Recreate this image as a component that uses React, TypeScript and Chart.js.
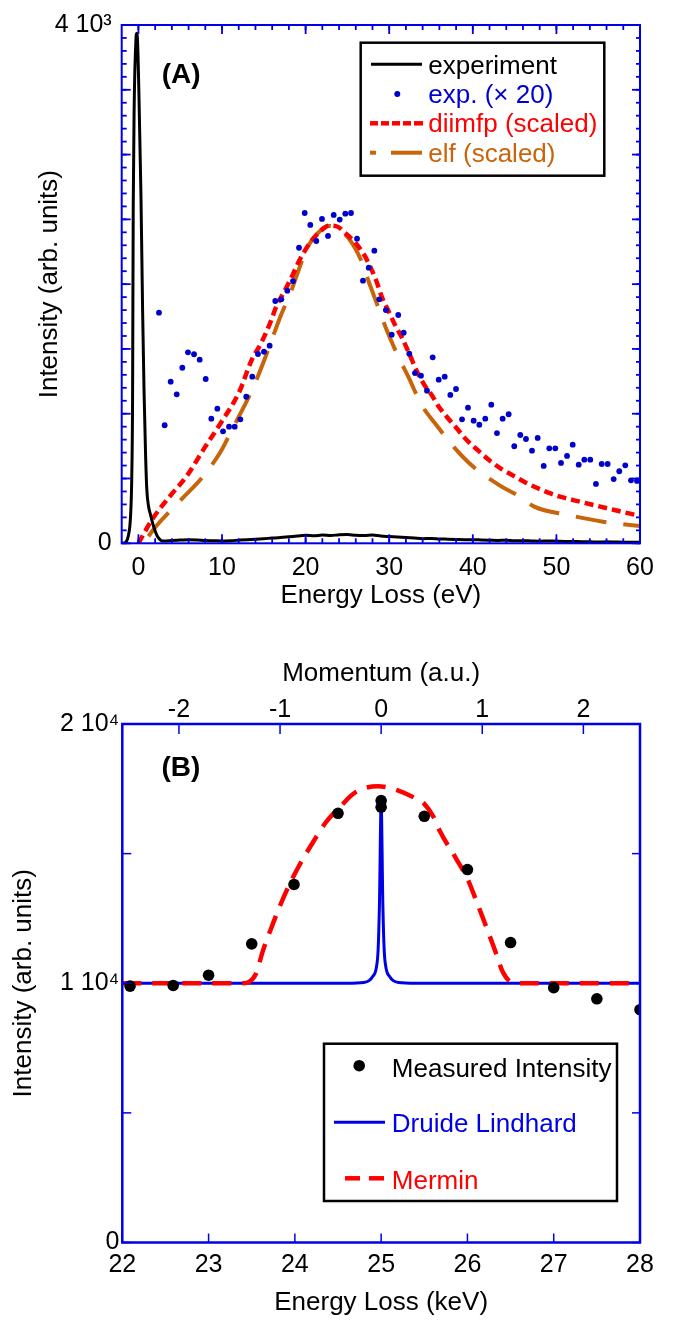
import React, { useEffect, useRef } from "react";
import { Chart, registerables } from "chart.js";

Chart.register(...registerables);

const FONT = "'Liberation Sans', Arial, Helvetica, sans-serif";
const BLUE = "#0000e6";
const DOT_BLUE = "#0000cc";
const RED = "#ff0000";
const BROWN = "#c8640a";

// ---------------- Panel A data ----------------
const expEnergy = [
  -2.0, -1.5, -1.2, -0.95, -0.8, -0.7, -0.62, -0.5, -0.3, -0.2, -0.1, 0.05, 0.3, 0.5, 0.67, 0.85, 1.0, 1.2, 1.45,
  1.7, 2.0, 2.3, 2.7, 3, 4, 5, 6, 7, 8, 9, 10, 11, 12, 13, 14, 15, 16, 17, 18, 19, 20, 21, 22, 23, 24, 25, 26, 27,
  28, 29, 30, 31, 32, 33, 34, 35, 36, 37, 38, 39, 40, 41, 42, 43, 44, 45, 46, 47, 48, 49, 50, 51, 52, 53, 54, 55,
  56, 57, 58, 59, 60,
];
const expIntensity = [
  0, 10, 60, 200, 500, 1100, 2600, 3400, 3880, 3936, 3870, 3500, 2700, 1800, 1183, 700, 420, 290, 220, 155, 95, 50,
  22, 18, 22, 25, 28, 26, 22, 20, 18, 20, 24, 28, 32, 36, 40, 44, 50, 56, 62, 58, 64, 60, 66, 68, 62, 60, 64, 56,
  52, 48, 44, 40, 36, 38, 34, 32, 30, 28, 28, 26, 24, 22, 24, 20, 20, 18, 16, 18, 16, 14, 14, 12, 12, 10, 12, 10, 8,
  8, 8,
];

const dotsEnergy = [
  2.46, 3.14, 3.86, 4.58, 5.25, 5.93, 6.65, 7.33, 8.05, 8.72, 9.44, 10.12, 10.84, 11.52, 12.19, 12.9, 13.62, 14.3,
  15.02, 15.7, 16.37, 17.09, 17.81, 18.49, 19.21, 19.89, 20.56, 21.28, 21.96, 22.68, 23.36, 24.08, 24.75, 25.43,
  26.15, 26.86, 27.55, 28.22, 28.81, 29.6, 30.3, 31.08, 31.73, 32.4, 33.08, 33.8, 34.52, 35.2, 35.92, 36.64, 37.31,
  37.99, 38.71, 39.42, 40.1, 40.78, 41.49, 42.21, 42.89, 43.57, 44.29, 44.96, 45.68, 46.36, 47.08, 47.76, 48.48,
  49.15, 49.87, 50.55, 51.27, 51.95, 52.67, 53.34, 54.05, 54.73, 55.42, 56.13, 56.85, 57.52, 58.24, 58.92, 59.64,
];
const dotsIntensity = [
  1780, 911, 1247, 1150, 1355, 1474, 1459, 1417, 1268, 962, 1039, 864, 900, 900, 957, 1131, 1286, 1461, 1479, 1525,
  1870, 1883, 1950, 2024, 2281, 2549, 2457, 2333, 2503, 2372, 2534, 2498, 2544, 2549, 2351, 2027, 2127, 2258, 1883,
  1800, 1610, 1762, 1625, 1463, 1314, 1294, 1178, 1435, 1263, 1286, 1145, 1191, 957, 1047, 946, 915, 962, 1070, 851,
  962, 996, 749, 836, 805, 715, 813, 597, 733, 733, 620, 674, 761, 607, 645, 645, 458, 612, 612, 496, 556, 602, 486,
  481,
];

const diimfpEnergy = [
  0, 1.6, 3.89, 5.72, 8.0, 9.83, 12.07, 13.55, 14.66, 15.74, 16.49, 17.65, 18.45, 19.17, 19.84, 20.64, 21.84, 22.83,
  23.84, 24.63, 25.82, 27.02, 27.82, 28.42, 29.1, 30.1, 30.65, 31.5, 32.49, 33.29, 34.28, 35.08, 35.87, 36.88, 38.07,
  39.27, 40.66, 42.05, 43.45, 44.84, 46.24, 47.64, 49.03, 50.43, 52.83, 56.95, 60,
];
const diimfpIntensity = [
  0, 180, 373, 514, 746, 926, 1170, 1415, 1543, 1698, 1826, 1968, 2071, 2173, 2250, 2328, 2413, 2451, 2443, 2400,
  2328, 2225, 2122, 2032, 1905, 1768, 1690, 1590, 1450, 1330, 1215, 1145, 1060, 977, 888, 797, 715, 637, 573, 522,
  471, 429, 391, 360, 321, 257, 211,
];

const elfEnergy = [
  1.2, 2.06, 5.26, 7.55, 9.83, 11.07, 12.62, 13.86, 15.06, 17.06, 18.25, 19.24, 20.25, 21.45, 22.64, 23.84, 25.43,
  26.62, 27.62, 28.81, 29.7, 31.09, 32.28, 33.88, 35.48, 37.87, 40.06, 43.25, 45.64, 47.34, 51.46, 55.57, 60,
];
const elfIntensity = [
  55, 128, 347, 502, 707, 861, 1054, 1222, 1415, 1762, 1942, 2122, 2289, 2393, 2449, 2431, 2328, 2186, 2007, 1800,
  1646, 1440, 1286, 1067, 926, 733, 591, 445, 360, 283, 218, 167, 133,
];

const xTicksA = [0, 10, 20, 30, 40, 50, 60];
const yTicksA = [0, 4000];
const yTickLabelsA = ["0", "4 10³"];

// ---------------- Panel B data ----------------
const measEnergy = [22.09, 22.59, 23.0, 23.5, 23.99, 24.5, 25.0, 25.0, 25.5, 26.0, 26.5, 27.0, 27.5, 28.0];
const measIntensity = [9890, 9915, 10310, 11520, 13810, 16555, 17050, 16790, 16440, 14385, 11570, 9830, 9400, 8980];

const drudeEnergy = [
  22, 24.6, 24.8, 24.86, 24.9, 24.945, 24.965, 24.98, 25.0, 25.02, 25.035, 25.055, 25.1, 25.14, 25.2, 25.4, 28,
];
const drudeIntensity = [
  10000, 10000, 10030, 10100, 10250, 10620, 11300, 13000, 16900, 13000, 11300, 10620, 10250, 10100, 10030, 10000,
  10000,
];

const merminEnergy = [
  22, 23.4, 23.47, 23.55, 23.63, 23.73, 23.82, 23.94, 24.06, 24.21, 24.36, 24.52, 24.7, 24.96, 25.2, 25.41, 25.5,
  25.61, 25.68, 25.87, 26.01, 26.1, 26.22, 26.32, 26.41, 26.51, 26.6, 28,
];
const merminIntensity = [
  10000, 10000, 10050, 10370, 11260, 12160, 12930, 13830, 14600, 15440, 16210, 16790, 17360, 17600, 17430, 17110,
  16920, 16400, 15870, 14800, 13960, 13200, 12160, 11260, 10430, 10040, 10000, 10000,
];

const xTicksB = [22, 23, 24, 25, 26, 27, 28];
const momentumTicks = [-2, -1, 0, 1, 2];
const yTicksB = [0, 10000, 20000];
const yTickLabelsB = ["0", "1 10⁴", "2 10⁴"];

// ---------------- helpers ----------------
const pts = (xs: number[], ys: number[]) => xs.map((x, i) => ({ x, y: ys[i] }));
const steps = (a: number, b: number, s: number) => {
  const r: number[] = [];
  for (let v = a; v <= b + 1e-9; v += s) r.push(+v.toFixed(6));
  return r;
};

type TickSpec = { scale: string; side: "bottom" | "top" | "left" | "right"; values: number[]; len: number };

function frameTicksPlugin(ticks: TickSpec[], frameWidth: number, tickWidth: number) {
  return {
    id: "frameTicks",
    afterDatasetsDraw(chart: any) {
      const { ctx, chartArea } = chart;
      const { left, right, top, bottom } = chartArea;
      ctx.save();
      ctx.setLineDash([]);
      ctx.strokeStyle = BLUE;
      ctx.lineWidth = tickWidth;
      for (const t of ticks) {
        const sc = chart.scales[t.scale];
        for (const v of t.values) {
          const p = sc.getPixelForValue(v);
          ctx.beginPath();
          if (t.side === "bottom") {
            ctx.moveTo(p, bottom);
            ctx.lineTo(p, bottom - t.len);
          } else if (t.side === "top") {
            ctx.moveTo(p, top);
            ctx.lineTo(p, top + t.len);
          } else if (t.side === "left") {
            ctx.moveTo(left, p);
            ctx.lineTo(left + t.len, p);
          } else {
            ctx.moveTo(right, p);
            ctx.lineTo(right - t.len, p);
          }
          ctx.stroke();
        }
      }
      ctx.lineWidth = frameWidth;
      ctx.strokeRect(left, top, right - left, bottom - top);
      ctx.restore();
    },
  };
}

type LegendRow = { text: string; color: string; baseline: number; marker: (ctx: CanvasRenderingContext2D) => void };

function legendPlugin(
  id: string,
  box: { x: number; y: number; w: number; h: number },
  textX: number,
  rows: LegendRow[],
  panelLabel: { text: string; x: number; y: number }
) {
  return {
    id,
    afterDraw(chart: any) {
      const ctx: CanvasRenderingContext2D = chart.ctx;
      ctx.save();
      ctx.fillStyle = "#ffffff";
      ctx.fillRect(box.x, box.y, box.w, box.h);
      ctx.strokeStyle = "#000000";
      ctx.lineWidth = 2.5;
      ctx.setLineDash([]);
      ctx.strokeRect(box.x, box.y, box.w, box.h);
      for (const r of rows) {
        ctx.save();
        r.marker(ctx);
        ctx.restore();
        ctx.font = `26px ${FONT}`;
        ctx.fillStyle = r.color;
        ctx.textAlign = "left";
        ctx.textBaseline = "alphabetic";
        ctx.fillText(r.text, textX, r.baseline);
      }
      ctx.font = `bold 28px ${FONT}`;
      ctx.fillStyle = "#000";
      ctx.textAlign = "left";
      ctx.textBaseline = "alphabetic";
      ctx.fillText(panelLabel.text, panelLabel.x, panelLabel.y);
      ctx.restore();
    },
  };
}

const hLine = (x1: number, x2: number, y: number, color: string, w: number, segs?: [number, number][]) => (
  ctx: CanvasRenderingContext2D
) => {
  ctx.strokeStyle = color;
  ctx.lineWidth = w;
  ctx.lineCap = "butt";
  const list = segs || [[x1, x2]];
  for (const [a, b] of list) {
    ctx.beginPath();
    ctx.moveTo(a, y);
    ctx.lineTo(b, y);
    ctx.stroke();
  }
};
const dot = (x: number, y: number, r: number, color: string) => (ctx: CanvasRenderingContext2D) => {
  ctx.fillStyle = color;
  ctx.beginPath();
  ctx.arc(x, y, r, 0, Math.PI * 2);
  ctx.fill();
};

const tickFont = { family: FONT, size: 25, lineHeight: 1 };
const titleFont = { family: FONT, size: 26, lineHeight: 1.2 };

// ---------------- Panel A ----------------
function PanelA() {
  const ref = useRef<HTMLCanvasElement>(null);
  useEffect(() => {
    const chart = new Chart(ref.current as HTMLCanvasElement, {
      type: "scatter",
      data: {
        datasets: [
          {
            label: "experiment",
            data: pts(expEnergy, expIntensity),
            showLine: true,
            borderColor: "#000000",
            borderWidth: 3,
            pointRadius: 0,
            cubicInterpolationMode: "monotone",
          } as any,
          {
            label: "exp. (× 20)",
            data: pts(dotsEnergy, dotsIntensity),
            showLine: false,
            pointRadius: 2.9,
            pointBackgroundColor: DOT_BLUE,
            pointBorderWidth: 0,
          } as any,
          {
            label: "diimfp (scaled)",
            data: pts(diimfpEnergy, diimfpIntensity),
            showLine: true,
            borderColor: RED,
            borderWidth: 4.5,
            borderDash: [9, 5],
            pointRadius: 0,
            cubicInterpolationMode: "monotone",
          } as any,
          {
            label: "elf (scaled)",
            data: pts(elfEnergy, elfIntensity),
            showLine: true,
            borderColor: BROWN,
            borderWidth: 4,
            borderDash: [31, 17],
            pointRadius: 0,
            cubicInterpolationMode: "monotone",
          } as any,
        ],
      },
      options: {
        responsive: false,
        animation: false,
        events: [],
        layout: { padding: { top: 25, right: 40, left: 0, bottom: 0 } },
        plugins: { legend: { display: false }, tooltip: { enabled: false } },
        scales: {
          x: {
            type: "linear",
            position: "bottom",
            min: -2,
            max: 60,
            afterBuildTicks: (s: any) => {
              s.ticks = xTicksA.map((v) => ({ value: v }));
            },
            afterFit: (s: any) => {
              s.height = 96.7;
            },
            grid: { display: false, drawTicks: false },
            border: { display: false },
            ticks: { color: "#000", font: tickFont, padding: 12, maxRotation: 0, autoSkip: false },
            title: {
              display: true,
              text: "Energy Loss (eV)",
              color: "#000",
              font: titleFont,
              padding: { top: 0, bottom: 28.4 },
            },
          },
          y: {
            type: "linear",
            position: "left",
            min: 0,
            max: 4000,
            afterBuildTicks: (s: any) => {
              s.ticks = yTicksA.map((v) => ({ value: v }));
            },
            afterFit: (s: any) => {
              s.width = 121.7;
            },
            grid: { display: false, drawTicks: false },
            border: { display: false },
            ticks: {
              color: "#000",
              font: tickFont,
              padding: 10,
              autoSkip: false,
              callback: (v: any) => yTickLabelsA[yTicksA.indexOf(Number(v))] ?? "",
            },
            title: {
              display: true,
              text: "Intensity (arb. units)",
              color: "#000",
              font: titleFont,
              padding: { top: 34.5, bottom: 0 },
            },
          },
        },
      } as any,
      plugins: [
        frameTicksPlugin(
          [
            { scale: "x", side: "bottom", values: steps(0, 60, 2), len: 5 },
            { scale: "x", side: "bottom", values: steps(0, 60, 10), len: 9 },
            { scale: "x", side: "top", values: steps(0, 60, 2), len: 5 },
            { scale: "x", side: "top", values: steps(0, 60, 10), len: 9 },
            { scale: "y", side: "left", values: steps(0, 4000, 100), len: 5 },
            { scale: "y", side: "left", values: steps(0, 4000, 500), len: 9 },
            { scale: "y", side: "right", values: steps(0, 4000, 100), len: 4 },
            { scale: "y", side: "right", values: steps(0, 4000, 500), len: 8 },
          ],
          2,
          1.8
        ),
        legendPlugin(
          "legendA",
          { x: 360.7, y: 42.7, w: 243.6, h: 133 },
          428.3,
          [
            { text: "experiment", color: "#000000", baseline: 73.5, marker: hLine(371, 422, 64.3, "#000", 3) },
            { text: "exp. (× 20)", color: DOT_BLUE, baseline: 103, marker: dot(397.3, 94, 3, DOT_BLUE) },
            {
              text: "diimfp (scaled)",
              color: RED,
              baseline: 132.3,
              marker: hLine(370, 423, 123.3, RED, 4.5, [
                [370, 378],
                [381, 389],
                [392, 400],
                [403, 411],
                [414, 423],
              ]),
            },
            {
              text: "elf (scaled)",
              color: BROWN,
              baseline: 161.7,
              marker: hLine(370, 423, 152.7, BROWN, 4, [
                [370, 376],
                [391, 422],
              ]),
            },
          ],
          { text: "(A)", x: 161.7, y: 82.5 }
        ),
      ],
    });
    return () => chart.destroy();
  }, []);
  return (
    <canvas
      ref={ref}
      width={680}
      height={640}
      style={{ position: "absolute", left: 0, top: 0, width: 680, height: 640 }}
    />
  );
}

// ---------------- Panel B ----------------
function PanelB() {
  const ref = useRef<HTMLCanvasElement>(null);
  useEffect(() => {
    const chart = new Chart(ref.current as HTMLCanvasElement, {
      type: "scatter",
      data: {
        datasets: [
          {
            label: "Measured Intensity",
            data: pts(measEnergy, measIntensity),
            xAxisID: "x",
            showLine: false,
            pointRadius: 5.8,
            pointBackgroundColor: "#000000",
            pointBorderWidth: 0,
          } as any,
          {
            label: "Mermin",
            data: pts(merminEnergy, merminIntensity),
            xAxisID: "x",
            showLine: true,
            borderColor: RED,
            borderWidth: 4.5,
            borderDash: [19, 11],
            pointRadius: 0,
            cubicInterpolationMode: "monotone",
          } as any,
          {
            label: "Druide Lindhard",
            data: pts(drudeEnergy, drudeIntensity),
            xAxisID: "x",
            showLine: true,
            borderColor: BLUE,
            borderWidth: 3,
            pointRadius: 0,
            cubicInterpolationMode: "monotone",
          } as any,
        ],
      },
      options: {
        responsive: false,
        animation: false,
        events: [],
        layout: { padding: { top: 0, right: 40, left: 0, bottom: 0 } },
        plugins: { legend: { display: false }, tooltip: { enabled: false } },
        scales: {
          x: {
            type: "linear",
            position: "bottom",
            min: 22,
            max: 28,
            afterBuildTicks: (s: any) => {
              s.ticks = xTicksB.map((v) => ({ value: v }));
            },
            afterFit: (s: any) => {
              s.height = 79.5;
            },
            grid: { display: false, drawTicks: false },
            border: { display: false },
            ticks: { color: "#000", font: tickFont, padding: 10.5, maxRotation: 0, autoSkip: false },
            title: {
              display: true,
              text: "Energy Loss (keV)",
              color: "#000",
              font: titleFont,
              padding: { top: 0, bottom: 3.4 },
            },
          },
          x2: {
            type: "linear",
            axis: "x",
            position: "top",
            min: -2.56,
            max: 2.56,
            afterBuildTicks: (s: any) => {
              s.ticks = momentumTicks.map((v) => ({ value: v }));
            },
            afterFit: (s: any) => {
              s.height = 84;
            },
            grid: { display: false, drawTicks: false },
            border: { display: false },
            ticks: { color: "#000", font: tickFont, padding: 1.5, maxRotation: 0, autoSkip: false },
            title: {
              display: true,
              text: "Momentum (a.u.)",
              color: "#000",
              font: titleFont,
              padding: { top: 18.4, bottom: 0 },
            },
          },
          y: {
            type: "linear",
            position: "left",
            min: 0,
            max: 20000,
            afterBuildTicks: (s: any) => {
              s.ticks = yTicksB.map((v) => ({ value: v }));
            },
            afterFit: (s: any) => {
              s.width = 122.3;
            },
            grid: { display: false, drawTicks: false },
            border: { display: false },
            ticks: {
              color: "#000",
              font: tickFont,
              padding: 3,
              autoSkip: false,
              callback: (v: any) => yTickLabelsB[yTicksB.indexOf(Number(v))] ?? "",
            },
            title: {
              display: true,
              text: "Intensity (arb. units)",
              color: "#000",
              font: titleFont,
              padding: { top: 8.4, bottom: 0 },
            },
          },
        },
      } as any,
      plugins: [
        frameTicksPlugin(
          [
            { scale: "x", side: "bottom", values: xTicksB, len: 9 },
            { scale: "x2", side: "top", values: momentumTicks, len: 10 },
            { scale: "y", side: "left", values: steps(0, 20000, 5000), len: 9 },
            { scale: "y", side: "right", values: steps(0, 20000, 5000), len: 8 },
          ],
          2.5,
          1.5
        ),
        legendPlugin(
          "legendB",
          { x: 324, y: 403.7, w: 293, h: 157.3 },
          391.8,
          [
            { text: "Measured Intensity", color: "#000000", baseline: 436.5, marker: dot(359.2, 425.7, 5.8, "#000") },
            { text: "Druide Lindhard", color: BLUE, baseline: 492, marker: hLine(334, 385, 482.3, BLUE, 3) },
            {
              text: "Mermin",
              color: RED,
              baseline: 549,
              marker: hLine(345, 384, 538.3, RED, 4.5, [
                [345, 360],
                [369, 384],
              ]),
            },
          ],
          { text: "(B)", x: 161.4, y: 135.6 }
        ),
      ],
    });
    return () => chart.destroy();
  }, []);
  return (
    <canvas
      ref={ref}
      width={680}
      height={682}
      style={{ position: "absolute", left: 0, top: 640, width: 680, height: 682 }}
    />
  );
}

export default function App() {
  return (
    <div
      style={{
        position: "absolute",
        left: 0,
        top: 0,
        width: 680,
        height: 1322,
        overflow: "hidden",
        background: "#ffffff",
      }}
    >
      <PanelA />
      <PanelB />
    </div>
  );
}
